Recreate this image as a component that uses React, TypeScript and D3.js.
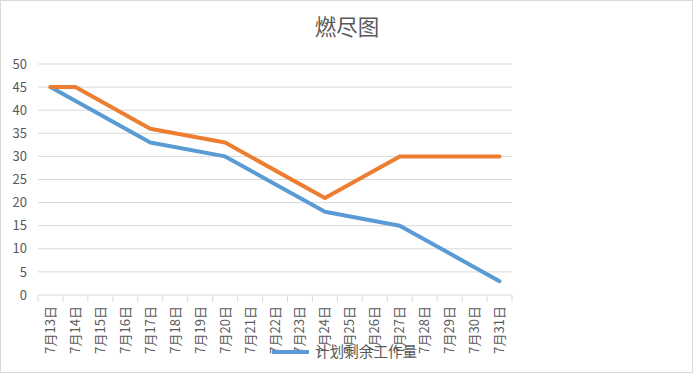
import React from "react";
import * as d3 from "d3";

const categories = ["7月13日","7月14日","7月15日","7月16日","7月17日","7月18日","7月19日","7月20日","7月21日","7月22日","7月23日","7月24日","7月25日","7月26日","7月27日","7月28日","7月29日","7月30日","7月31日"];
const planned: (number | null)[] = [45,null,null,null,33,null,null,30,null,null,null,18,null,null,15,null,null,null,3];
const actual: (number | null)[] = [45,45,null,null,36,null,null,33,null,null,null,21,null,null,30,30,30,30,30];
const yTicks = [0,5,10,15,20,25,30,35,40,45,50];
const title = "燃尽图";
const legendLabel = "计划剩余工作量";

const W = 694, H = 375;
const font = "'Microsoft YaHei', 'Noto Sans CJK SC', sans-serif";
const textColor = "#595959";

export default function App() {
  const left = 38, right = 512, top = 64, bottom = 295;
  const x = d3.scaleBand<string>().domain(categories).range([left, right]);
  const y = d3.scaleLinear().domain([0, 50]).range([bottom, top]);
  const cx = (c: string) => (x(c) as number) + x.bandwidth() / 2;

  const mk = (vals: (number | null)[]) => {
    const pts = categories.map((c, i) => ({ c, v: vals[i] })).filter(d => d.v !== null) as { c: string; v: number }[];
    return d3.line<{ c: string; v: number }>().x(d => cx(d.c)).y(d => y(d.v))(pts) || "";
  };

  return (
    <svg width={W} height={H} style={{ position: "absolute", left: 0, top: 0, background: "#fff" }} fontFamily={font}>
      <rect x={0.5} y={0.5} width={W - 2} height={H - 3} fill="#fff" stroke="#d9d9d9" />
      <text x={347} y={35} textAnchor="middle" fontSize={21.5} fill={textColor}>{title}</text>
      {yTicks.map(t => (
        <g key={t}>
          <line x1={left} x2={right} y1={y(t)} y2={y(t)} stroke="#d9d9d9" strokeWidth={1} />
          <text x={27} y={y(t)} dy="0.36em" textAnchor="end" fontSize={13} fill={textColor}>{t}</text>
        </g>
      ))}
      {categories.map((c, i) => (
        <line key={"t" + i} x1={x(c) as number} x2={x(c) as number} y1={bottom} y2={bottom + 7} stroke="#d9d9d9" />
      ))}
      <line x1={right} x2={right} y1={bottom} y2={bottom + 7} stroke="#d9d9d9" />
      {categories.map((c, i) => (
        <text key={"l" + i} transform={`translate(${cx(c) + 4.5},${bottom + 11}) rotate(-90)`} textAnchor="end" fontSize={13} fill={textColor}>{c}</text>
      ))}
      <path d={mk(planned)} fill="none" stroke="#5b9bd5" strokeWidth={4} strokeLinejoin="round" strokeLinecap="round" />
      <path d={mk(actual)} fill="none" stroke="#ed7d31" strokeWidth={4} strokeLinejoin="round" strokeLinecap="round" />
      <line x1={272} x2={309} y1={352} y2={352} stroke="#5b9bd5" strokeWidth={4} />
      <text x={315} y={352} dy="0.36em" fontSize={14.6} fill={textColor}>{legendLabel}</text>
    </svg>
  );
}
